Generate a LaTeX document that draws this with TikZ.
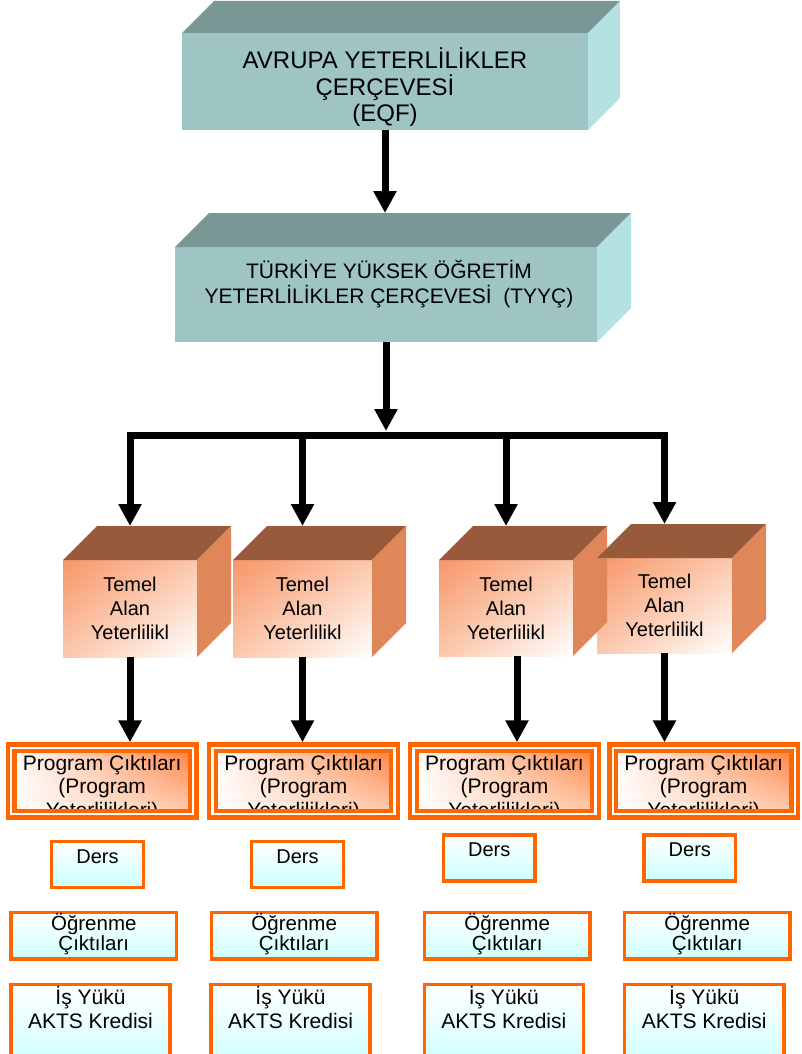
\documentclass[tikz,border=0pt]{standalone}
\usepackage{fontspec}
\setmainfont{Liberation Sans}
\usetikzlibrary{arrows.meta,calc,shadings}
\definecolor{tealfront}{RGB}{158,196,196}
\definecolor{tealtop}{RGB}{120,151,149}
\definecolor{tealright}{RGB}{180,225,225}
\definecolor{brtop}{RGB}{151,91,60}
\definecolor{brright}{RGB}{224,135,90}
\definecolor{orfront}{RGB}{247,150,104}
\definecolor{ormid}{RGB}{251,200,172}
\definecolor{obord}{RGB}{255,102,0}
\definecolor{progor}{RGB}{255,125,60}
\definecolor{progmid}{RGB}{255,205,175}
\definecolor{lcyan}{RGB}{204,255,255}
\tikzset{
  face/.style={inner sep=0pt, outer sep=0pt},
  bigface/.style={face, fill=tealfront, minimum height=#1},
  cubeface/.style={face, minimum width=#1, shade, upper left=orfront, upper right=ormid, lower left=ormid, lower right=white},
  arr/.style={line width=7pt, -{Triangle[width=22pt,length=22pt]}},
  barline/.style={line width=7pt, line cap=rect},
  txt/.style={inner sep=0pt, align=center, anchor=base},
  progbox/.style={face, minimum width=182pt, minimum height=66.4pt, shade, upper right=progor, upper left=white, lower left=white, lower right=progmid},
  progborder/.style={draw=obord, line width=4.3pt, double=white, double distance=2.3pt},
  smallbox/.style={draw=obord, line width=3.4pt, inner sep=0pt, outer sep=0pt, top color=white, bottom color=lcyan},
  dersbox/.style={smallbox, minimum width=91.6pt, minimum height=46pt},
  ogrbox/.style={smallbox, minimum width=165.6pt, minimum height=46.3pt},
  isbox/.style={smallbox, minimum width=159pt, minimum height=85.6pt},
}
\newcommand\cubesides[4]{%
  \fill[#3] (#1.north west) -- ++(#2,-#2) -- ($(#1.north east)+(#2,-#2)$) -- (#1.north east) -- cycle;
  \fill[#4] (#1.north east) -- ++(#2,-#2) -- ($(#1.south east)+(#2,-#2)$) -- (#1.south east) -- cycle;}
\begin{document}
\begin{tikzpicture}[x=1pt,y=-1pt]
\useasboundingbox (0,0) rectangle (801,1054);
\clip (0,0) rectangle (801,1054);
\fill[white] (0,0) rectangle (801,1054);
% EQF
\node[bigface=97pt, minimum width=406pt] (eqf) at (385,81.5) {};
\cubesides{eqf}{32}{tealtop}{tealright}
\node[txt, font=\fontsize{24}{26.7}\selectfont] (eqft) at (385,121.7) {AVRUPA YETERLİLİKLER\\ÇERÇEVESİ\\(EQF)};
% TYYC
\node[bigface=95pt, minimum width=422pt] (tyyc) at (386,294.5) {};
\cubesides{tyyc}{34}{tealtop}{tealright}
\node[txt, font=\fontsize{21}{25}\selectfont] (tyyct) at (389,303.3) {TÜRKİYE YÜKSEK ÖĞRETİM\\YETERLİLİKLER ÇERÇEVESİ~~(TYYÇ)};
% Temel boxes
\node[cubeface=134pt, minimum height=97pt] (t1) at (130,608.5) {};
\node[cubeface=139pt, minimum height=97pt] (t2) at (302.5,608.5) {};
\node[cubeface=134pt, minimum height=96pt] (t3) at (506,608) {};
\node[cubeface=135pt, minimum height=95pt] (t4) at (664.5,605.5) {};
\foreach \n in {t1,t2,t3,t4}{\cubesides{\n}{34}{brtop}{brright}}
\foreach \n/\y in {t1/639,t2/639,t3/639,t4/636.3}{
  \node[txt, font=\fontsize{20}{24}\selectfont] (\n t) at (\n.center |- 0,\y) {Temel\\Alan\\Yeterlilikl};}
% Program boxes
\foreach \n/\x in {p1/102.2,p2/303.6,p3/504.5,p4/703.7}{
  \node[progbox] (\n) at (\x,781) {};
  \begin{scope}
    \clip (\n.south west) rectangle (\n.north east);
    \node[txt, font=\fontsize{21}{23.5}\selectfont] (\n t) at (\x,817) {Program Çıktıları\\(Program\\Yeterlilikleri)};
  \end{scope}
  \draw[progborder] (\n.south west) rectangle (\n.north east);
}
% Ders
\foreach \n/\x/\y in {d1/97.5/864.6,d2/297.5/864.6,d3/489.2/858,d4/689.8/858}{
  \node[dersbox] (\n) at (\x,\y) {};
  \node[txt, font=\fontsize{20}{24}\selectfont] (\n t) at ($(\n.north)+(0,21.6)$) {Ders};
}
% Ogrenme
\foreach \n/\x in {o1/93.8,o2/294.2,o3/507.2,o4/707.2}{
  \node[ogrbox] (\n) at (\x,935.8) {};
  \node[txt, font=\fontsize{20.5}{20.7}\selectfont] (\n t) at (\x,950.7) {Öğrenme\\Çıktıları};
}
% Is yuku
\foreach \n/\x/\w in {i1/90.5/159,i2/290.5/159,i3/503.85/158.9,i4/704.2/159.6}{
  \node[isbox, minimum width=\w pt] (\n) at (\x,1027.2) {};
  \node[txt, font=\fontsize{21}{24.3}\selectfont] (\n t) at (\x,1028.3) {İş Yükü\\AKTS Kredisi};
}
% Connectors
\coordinate (bar) at (386,435);
\draw[arr] (eqf.south) -- ($(eqf.south |- tyyc.north)+(0,-34)$);
\draw[arr] (tyyc.south) -- ($(tyyc.south |- bar)+(0,-4)$);
\draw[barline] (bar -| t1.north) -- (bar -| t4.north);
\foreach \n in {t1,t2,t3,t4}{\draw[arr] (bar -| \n.north) -- ($(\n.north)+(0,-34)$);}
\draw[arr] (t1.south) -- ($(t1.south |- p1.north)+(0,-5.5)$);
\draw[arr] (t2.south) -- ($(t2.south |- p2.north)+(0,-5.5)$);
\draw[arr] ($(t3.south)+(11,0)$) -- ($(t3.south |- p3.north)+(11,-5.5)$);
\draw[arr] (t4.south) -- ($(t4.south |- p4.north)+(0,-5.5)$);
\end{tikzpicture}
\end{document}
